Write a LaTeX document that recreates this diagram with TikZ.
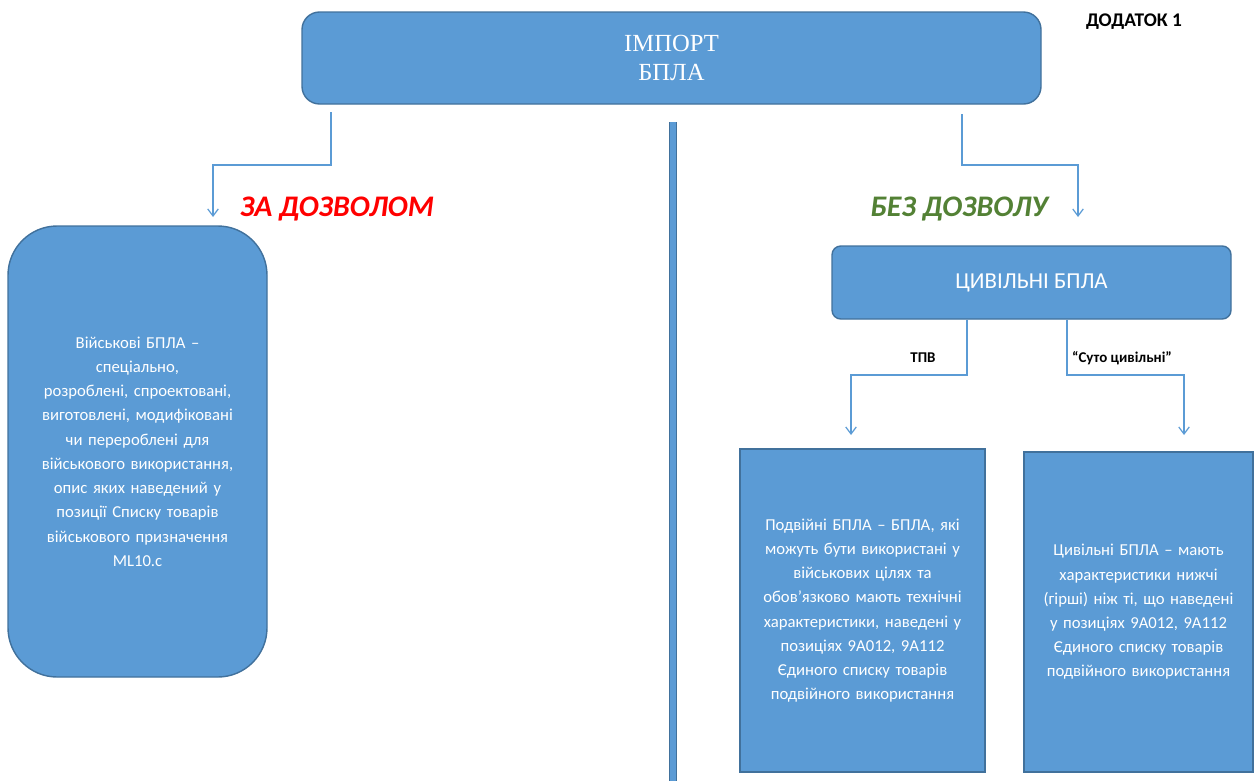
\documentclass[tikz,border=0pt]{standalone}
\usepackage{fontspec}
\setmainfont{Carlito}
\newfontfamily\serifua{Liberation Serif}
\usetikzlibrary{arrows.meta}
\definecolor{bfill}{HTML}{5B9BD5}
\definecolor{bedge}{HTML}{41719C}
\definecolor{dgreen}{HTML}{538135}
\tikzset{
  bx/.style={draw=bedge,fill=bfill,line width=0.8pt,text=white,align=center,inner sep=2pt},
  conn/.style={draw=bfill,line width=0.7pt},
  arr/.style={conn,-{Straight Barb[length=4pt,width=6pt]}},
  body/.style={font=\fontsize{9.5}{13.8}\selectfont}
}
\begin{document}
\begin{tikzpicture}[x=0.02cm,y=-0.02cm]
\useasboundingbox (0,0) rectangle (1257,781);
\node[bx,rounded corners=10pt,minimum width=739*0.02cm,minimum height=92*0.02cm,font=\serifua\fontsize{14}{17}\selectfont] (imp) at (671.5,58) {ІМПОРТ\\БПЛА};
\node[font=\bfseries\fontsize{11}{13}\selectfont] (dod) at (1134,22) {ДОДАТОК 1};
\coordinate (vt) at (673,122); \coordinate (vb) at (673,781);
\draw[draw=bedge,line width=4.5pt] (vt) -- (vb);
\draw[draw=bfill,line width=3pt] (vt) -- (vb);
\coordinate (l0) at (331,112); \coordinate (l1) at (213,217);
\draw[arr] (l0) |- (213,165) -- (l1);
\node[text=red,font=\bfseries\itshape\fontsize{17}{20}\selectfont] (za) at (337,209) {ЗА ДОЗВОЛОМ};
\node[bx,rounded corners=28pt,minimum width=259*0.02cm,minimum height=451*0.02cm,text width=240*0.02cm,body] (mil) at (137.5,451.5) {Військові БПЛА –\\ спеціально,\\ розроблені, спроектовані,\\ виготовлені, модифіковані\\ чи перероблені для\\ військового використання,\\ опис яких наведений у\\ позиції Списку товарів\\ військового призначення\\ ML10.c};
\coordinate (r0) at (962,114); \coordinate (r1) at (1078,217);
\draw[arr] (r0) |- (1078,165) -- (r1);
\node[text=dgreen,font=\bfseries\itshape\fontsize{17}{20}\selectfont] (bez) at (959,209) {БЕЗ ДОЗВОЛУ};
\node[bx,rounded corners=5pt,minimum width=399*0.02cm,minimum height=73*0.02cm,font=\fontsize{13}{16}\selectfont] (civ) at (1031.5,282.5) {ЦИВІЛЬНІ БПЛА};
\node[bx,minimum width=245*0.02cm,minimum height=323*0.02cm,text width=230*0.02cm,body] (dual) at (862.5,610.5) {Подвійні БПЛА – БПЛА, які\\ можуть бути використані у\\ військових цілях та\\ обов’язково мають технічні\\ характеристики, наведені у\\ позиціях 9A012, 9A112\\ Єдиного списку товарів\\ подвійного використання};
\node[bx,minimum width=229*0.02cm,minimum height=320*0.02cm,text width=220*0.02cm,body] (pure) at (1138.5,612) {Цивільні БПЛА – мають\\ характеристики нижчі\\ (гірші) ніж ті, що наведені\\ у позиціях 9A012, 9A112\\ Єдиного списку товарів\\ подвійного використання};
\draw[arr] (civ.south -| 967,0) |- (851,375) -- (851,435);
\draw[arr] (civ.south -| 1067,0) |- (1184,375) -- (1184,435);
\node[font=\bfseries\fontsize{8.5}{10}\selectfont] (tpv) at (923,358) {ТПВ};
\node[font=\bfseries\fontsize{8.5}{10}\selectfont] (suto) at (1122,358) {“Суто цивільні”};
\end{tikzpicture}
\end{document}
